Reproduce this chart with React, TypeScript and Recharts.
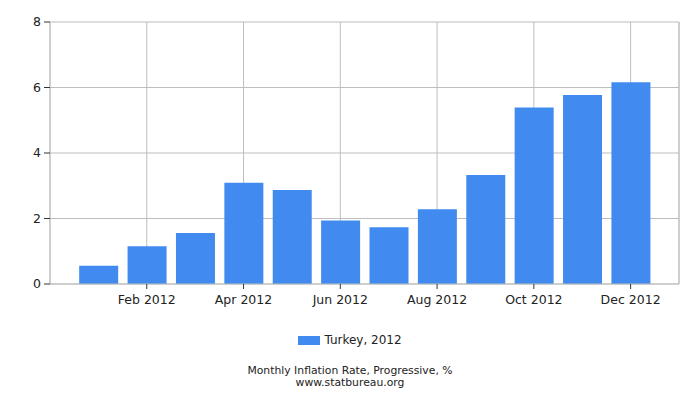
import React from 'react';
import { BarChart, Bar, XAxis, YAxis, CartesianGrid, ReferenceLine } from 'recharts';

const MONTHS = ['Jan', 'Feb', 'Mar', 'Apr', 'May', 'Jun', 'Jul', 'Aug', 'Sep', 'Oct', 'Nov', 'Dec'];
const INFLATION_2012 = [0.56, 1.15, 1.56, 3.09, 2.87, 1.94, 1.73, 2.28, 3.33, 5.39, 5.77, 6.16];
const X_TICKS = [2, 4, 6, 8, 10, 12];
const Y_TICKS = [0, 2, 4, 6, 8];

const BAR_COLOR = '#418bf0';
const GRID = '#bdbdbd';
const FONT = '"DejaVu Sans", Verdana, sans-serif';

const data = MONTHS.map((m, i) => ({ idx: i + 1, month: m, value: INFLATION_2012[i] }));

const textLine = (top: number): React.CSSProperties => ({
  position: 'absolute',
  left: 0,
  top,
  width: 700,
  height: 11,
  textAlign: 'center',
  fontFamily: FONT,
  fontSize: 10.8,
  lineHeight: '11px',
  color: '#222',
});

const App: React.FC = () => {
  return (
    <div style={{ position: 'absolute', left: 0, top: 0, width: 700, height: 400, background: '#fff' }}>
      <BarChart width={700} height={400} data={data} margin={{ top: 22, right: 21, left: 0, bottom: 86 }}>
        <CartesianGrid stroke={GRID} />
        <XAxis
          dataKey="idx"
          type="number"
          domain={[0, 13]}
          ticks={X_TICKS}
          tickFormatter={(v: number) => `${MONTHS[v - 1]} 2012`}
          axisLine={{ stroke: GRID }}
          tickLine={{ stroke: '#333' }}
          tickSize={5}
          tickMargin={6}
          height={30}
          tick={{ fill: '#222', fontSize: 12.5, fontFamily: FONT }}
        />
        <YAxis
          domain={[0, 8]}
          ticks={Y_TICKS}
          axisLine={{ stroke: GRID }}
          tickLine={{ stroke: '#333' }}
          tickSize={6}
          tickMargin={3}
          width={50}
          tick={{ fill: '#222', fontSize: 12.5, fontFamily: FONT }}
        />
        <ReferenceLine x={13} stroke={GRID} />
        <Bar dataKey="value" name="Turkey, 2012" fill={BAR_COLOR} barSize={39} isAnimationActive={false} />
      </BarChart>
      <div
        style={{
          position: 'absolute',
          left: 0,
          top: 332,
          width: 700,
          height: 16,
          display: 'flex',
          justifyContent: 'center',
          alignItems: 'center',
          fontFamily: FONT,
          fontSize: 12,
          color: '#222',
        }}
      >
        <span style={{ display: 'inline-block', width: 22, height: 9, background: BAR_COLOR, marginRight: 4 }} />
        <span>Turkey, 2012</span>
      </div>
      <div style={textLine(364.5)}>Monthly Inflation Rate, Progressive, %</div>
      <div style={textLine(376.5)}>www.statbureau.org</div>
    </div>
  );
};

export default App;
